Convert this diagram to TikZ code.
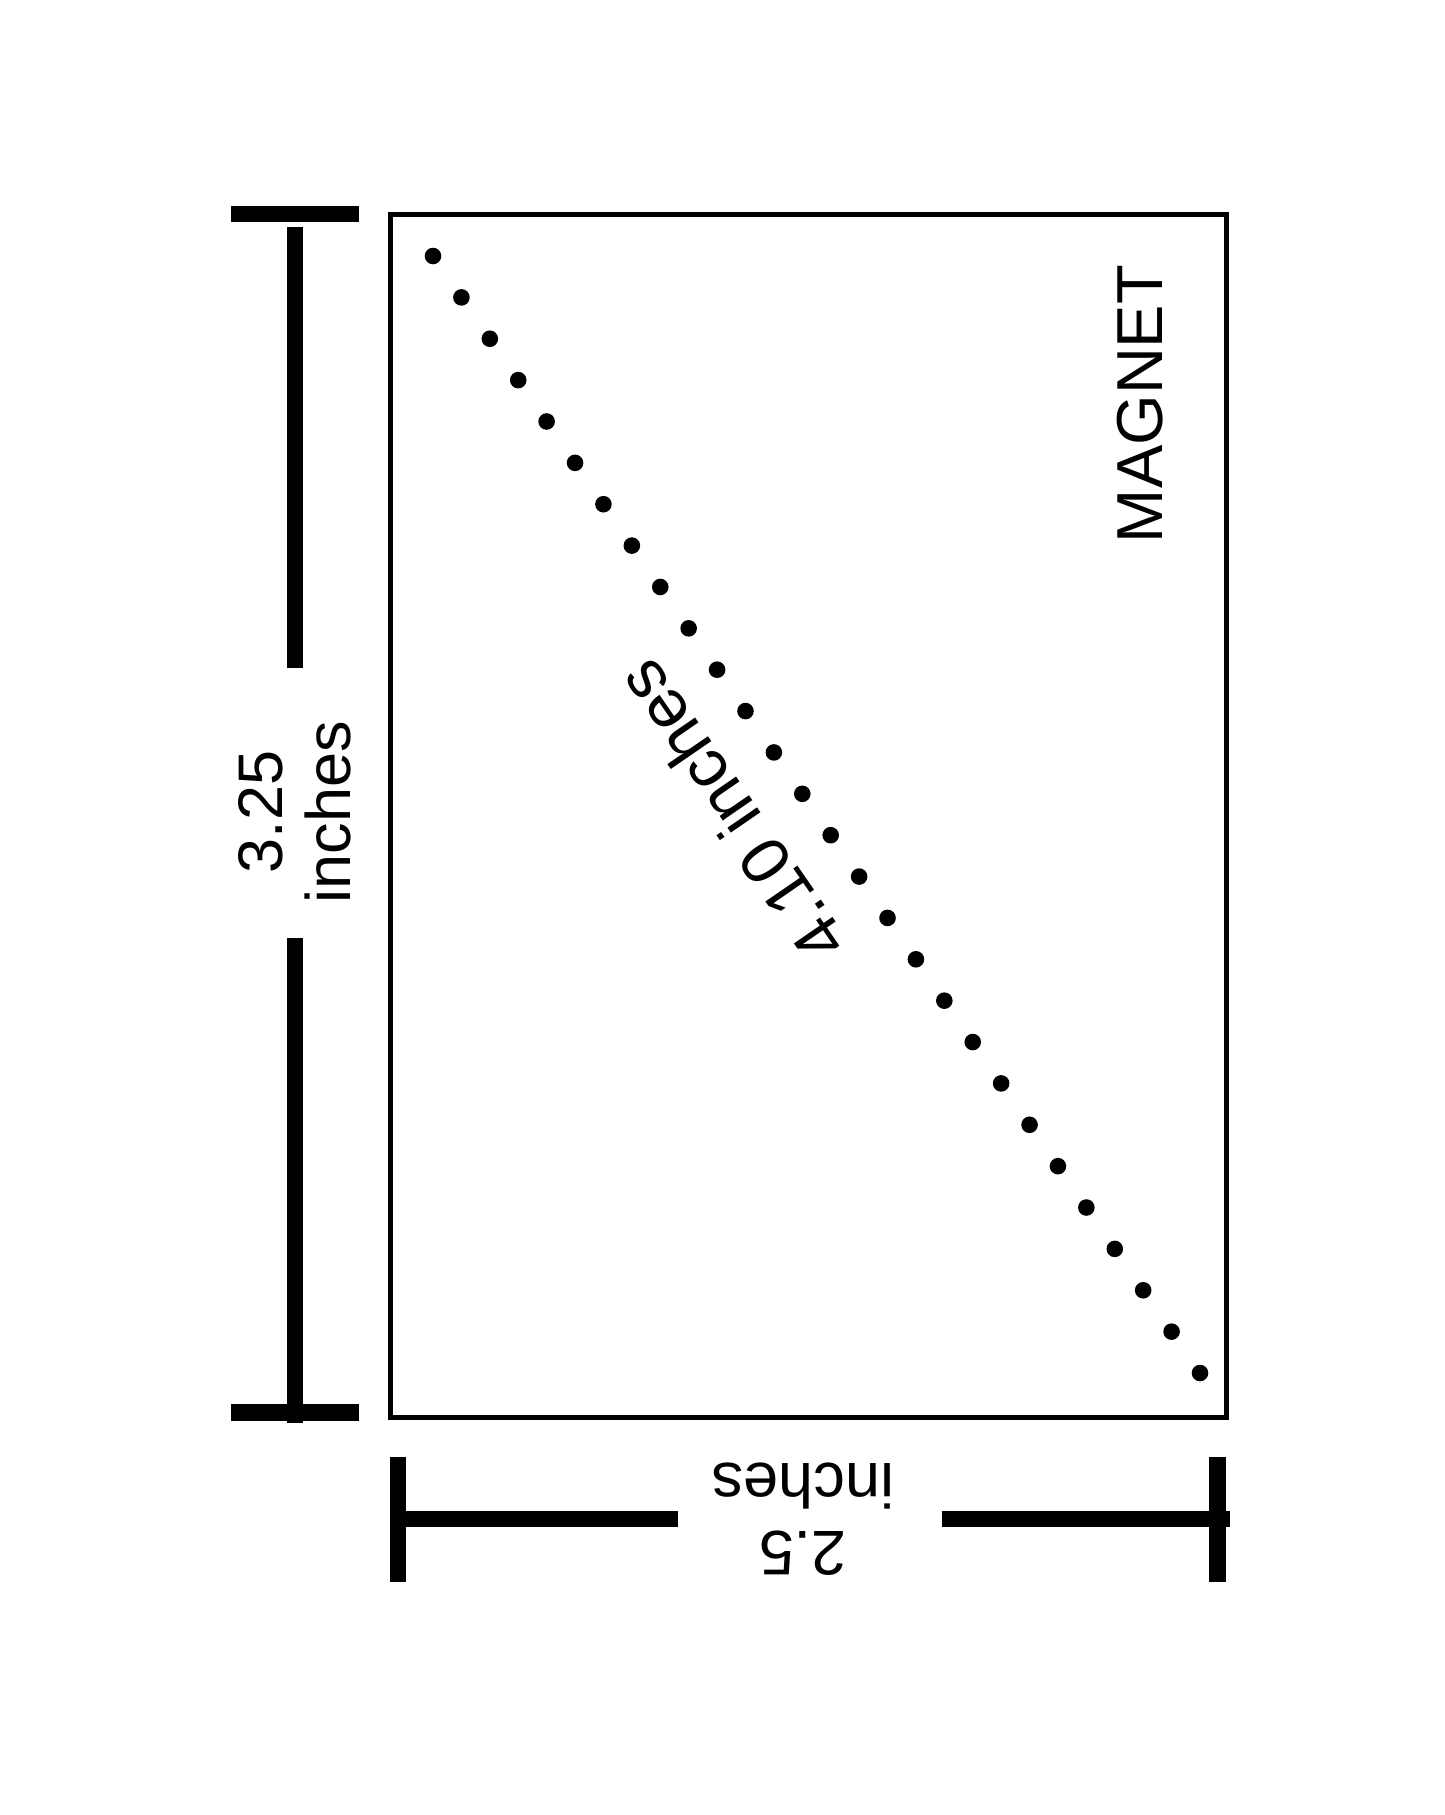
\documentclass[tikz,border=0pt]{standalone}
\usepackage{fontspec}
\setmainfont{Liberation Sans}
\usetikzlibrary{calc}
\tikzset{bar/.style={line width=8.2pt},
	lbl/.style={font=\fontsize{31.5}{34}\selectfont,align=center}}

\begin{document}
\begin{tikzpicture}[every node/.style={inner sep=0pt,outer sep=0pt},
	magdot/.style={circle,fill=black,minimum size=8.3pt}, x=0.5pt, y=-0.5pt]
\useasboundingbox (0,0) rectangle (1445,1815);

% magnet
\draw[line width=2.5pt] (390.5,214.5) rectangle (1226.5,1417.5);
\node[lbl,rotate=90,font=\fontsize{32.5}{34}\selectfont] (magnet) at (1140.5,404) {MAGNET};

% diagonal
\foreach \i in {0,...,27} {
	\node[magdot] (d\i) at ({433+28.407*\i},{256+41.37*\i}) {};
};
\node[lbl,rotate=124.5,font=\fontsize{34}{36}\selectfont] (diag) at (731,812) {4.10 inches};

% height
\coordinate (htl) at (231,214);
\coordinate (htr) at (359,214);
\coordinate (hbl) at (231,1412.5);
\coordinate (hbr) at (359,1412.5);
\coordinate (hup) at (295,227);
\coordinate (hup1) at (295,668);
\coordinate (hdn1) at (295,938);
\coordinate (hdn) at (295,1423);
\node[lbl,rotate=90] (hgt) at (295,812) {3.25\\inches};
\draw[bar] (htl) -- (htr);
\draw[bar] (hbl) -- (hbr);
\draw[bar] (hup) -- (hup1);
\draw[bar] (hdn1) -- (hdn);

% width
\coordinate (wlt) at (398,1457);
\coordinate (wlb) at (398,1582);
\coordinate (wrt) at (1217.5,1457);
\coordinate (wrb) at (1217.5,1582);
\coordinate (wl) at (398,1519);
\coordinate (wl1) at (678,1519);
\coordinate (wr1) at (942,1519);
\coordinate (wr) at (1230,1519);
\node[lbl,rotate=180] (wid) at (803,1519) {2.5\\inches};
\draw[bar] (wlt) -- (wlb);
\draw[bar] (wrt) -- (wrb);
\draw[bar] (wl) -- (wl1);
\draw[bar] (wr1) -- (wr);

\end{tikzpicture}
\end{document}
